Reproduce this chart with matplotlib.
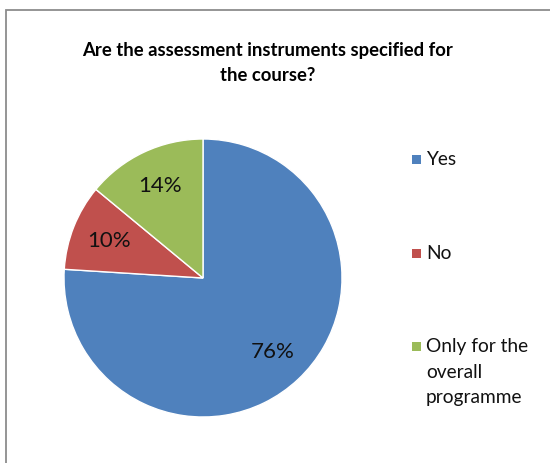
import matplotlib
matplotlib.use("Agg")
import matplotlib.pyplot as plt
from matplotlib.patches import Rectangle

categories = ["Yes", "No", "Only for the\noverall\nprogramme"]
shares = [76, 10, 14]
colors = ["#4F81BD", "#C0504D", "#9BBB59"]
title = "Are the assessment instruments specified for\nthe course?"

W, H = 550, 463
plt.rcParams["font.family"] = ["Lato", "DejaVu Sans"]

fig = plt.figure(figsize=(W / 100, H / 100), dpi=100)

# outer frame of the chart area
fig.patches.append(Rectangle((6 / W, -0.1), 1.2, (H - 10) / H + 0.1,
                             transform=fig.transFigure, fill=False,
                             edgecolor="#8c8c8c", linewidth=1.3))

cx, cy, r = 203, 278, 139
ax = fig.add_axes([(cx - r) / W, (H - cy - r) / H, 2 * r / W, 2 * r / H])
wedges, texts, autotexts = ax.pie(
    shares, colors=colors, startangle=90, counterclock=False,
    autopct="%.0f%%", pctdistance=0.73,
    wedgeprops=dict(edgecolor="white", linewidth=1.0),
    textprops=dict(fontsize=16, color="#111111"))
ax.set_xlim(-1, 1)
ax.set_ylim(-1, 1)
ax.set_aspect("equal")

fig.text(268 / W, 1 - 63 / H, title, ha="center", va="center",
         fontsize=13.3, fontweight="bold", linespacing=1.55)

# legend: square marker beside the first line of each label
legend_y = [159, 253, 346]
for label, color, y in zip(categories, colors, legend_y):
    fig.patches.append(Rectangle((412 / W, 1 - (y + 4.5) / H), 9 / W, 9 / H,
                                 transform=fig.transFigure,
                                 facecolor=color, edgecolor="none"))
    fig.text(426 / W, 1 - (y - 8) / H, label, ha="left", va="top",
             fontsize=13.8, color="#111111", linespacing=1.62)

fig.savefig("out.png", dpi=100)
